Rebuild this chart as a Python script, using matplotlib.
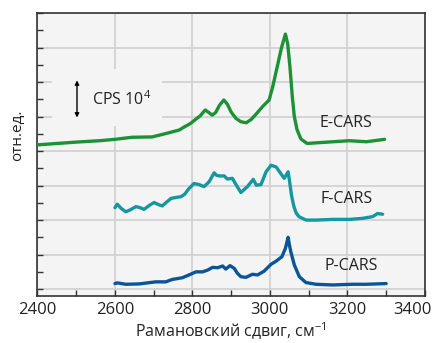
import matplotlib
matplotlib.use('Agg')
import matplotlib.pyplot as plt
from matplotlib.patches import Rectangle
from matplotlib.ticker import MultipleLocator
from matplotlib.transforms import ScaledTranslation

plt.rcParams['font.family'] = ['Open Sans', 'DejaVu Sans']
plt.rcParams['mathtext.fontset'] = 'custom'
plt.rcParams['mathtext.rm'] = 'Open Sans'
plt.rcParams['mathtext.it'] = 'Open Sans'

# E-CARS (green)
e_x = [2400, 2450, 2500, 2560, 2600, 2644, 2696, 2732, 2766, 2779, 2795, 2806,
       2820, 2833, 2842, 2851, 2860, 2870, 2881, 2890, 2900, 2912, 2925, 2939,
       2952, 2965, 2982, 2998, 3008, 3018, 3030, 3040, 3046, 3052, 3058, 3063,
       3070, 3080, 3096, 3135, 3205, 3249, 3296]
e_y = [4.18, 4.22, 4.26, 4.30, 4.34, 4.40, 4.41, 4.51, 4.61, 4.70, 4.80, 4.90,
       5.02, 5.19, 5.12, 5.04, 5.12, 5.33, 5.48, 5.36, 5.13, 4.95, 4.85, 4.82,
       4.92, 5.08, 5.30, 5.48, 5.90, 6.40, 7.00, 7.39, 7.10, 6.40, 5.55, 5.00,
       4.62, 4.35, 4.22, 4.25, 4.30, 4.27, 4.34]

# F-CARS (teal)
f_x = [2600, 2606, 2616, 2628, 2640, 2654, 2665, 2675, 2688, 2701, 2712, 2722,
       2733, 2745, 2760, 2771, 2780, 2790, 2804, 2817, 2830, 2843, 2856, 2862,
       2869, 2882, 2890, 2903, 2914, 2925, 2942, 2957, 2965, 2977, 2990, 3003,
       3016, 3028, 3037, 3047, 3051, 3056, 3062, 3068, 3075, 3093, 3119, 3162,
       3205, 3239, 3265, 3278, 3291]
f_y = [2.36, 2.46, 2.34, 2.24, 2.30, 2.39, 2.36, 2.31, 2.42, 2.51, 2.45, 2.41,
       2.52, 2.63, 2.66, 2.68, 2.75, 2.90, 3.06, 3.03, 2.97, 3.11, 3.37, 3.30,
       3.28, 3.28, 3.19, 3.21, 3.00, 2.80, 2.97, 3.18, 3.01, 3.03, 3.40, 3.59,
       3.54, 3.35, 3.21, 3.40, 3.10, 2.70, 2.39, 2.20, 2.10, 2.00, 2.00, 2.02,
       2.02, 2.05, 2.10, 2.19, 2.17]

# P-CARS (blue)
p_x = [2600, 2606, 2628, 2662, 2705, 2731, 2748, 2774, 2791, 2809, 2826, 2839,
       2852, 2865, 2878, 2886, 2897, 2908, 2916, 2925, 2938, 2955, 2968, 2985,
       3003, 3016, 3031, 3040, 3047, 3050, 3054, 3063, 3076, 3093, 3119, 3162,
       3213, 3248, 3274, 3300]
p_y = [0.16, 0.18, 0.14, 0.15, 0.21, 0.21, 0.28, 0.33, 0.41, 0.50, 0.50, 0.55,
       0.63, 0.62, 0.67, 0.58, 0.68, 0.60, 0.46, 0.36, 0.34, 0.43, 0.41, 0.52,
       0.72, 0.81, 0.94, 1.18, 1.50, 1.30, 1.08, 0.70, 0.36, 0.19, 0.14, 0.12,
       0.14, 0.14, 0.15, 0.16]

x_ticks = [2400, 2600, 2800, 3000, 3200, 3400]

series = [
    ('E-CARS', e_x, e_y, '#1c9136', 3195, 4.82),
    ('F-CARS', f_x, f_y, '#16979f', 3198, 2.61),
    ('P-CARS', p_x, p_y, '#0a5597', 3210, 0.68),
]

fig = plt.figure(figsize=(4.38, 3.43), dpi=100)
ax = fig.add_axes([0.0856, 0.137, 0.8844, 0.825])
ax.set_facecolor('#f4f4f4')

for name, xs, ys, color, tx, ty in series:
    ax.plot(xs, ys, color=color, linewidth=2.4, solid_capstyle='round',
            solid_joinstyle='round', zorder=3)
    ax.text(tx, ty, name, fontsize=11.5, color='#222222', ha='center', va='center', zorder=4)

ax.set_xlim(2400, 3400)
ax.set_ylim(-0.2, 8.0)
ax.set_xticks(x_ticks)
ax.xaxis.set_minor_locator(MultipleLocator(100))
ax.yaxis.set_major_locator(MultipleLocator(1))
ax.yaxis.set_minor_locator(MultipleLocator(0.5))
ax.set_yticklabels([])
ax.tick_params(which='both', direction='in', length=4, width=1, color='#333333')
ax.tick_params(axis='x', labelsize=12, pad=4, labelcolor='#222222')
ax.tick_params(axis='y', left=True, right=False)
ax.grid(True, which='major', color='#d2d2d2', linewidth=1.3, zorder=0)
ax.set_axisbelow(True)
for sp in ax.spines.values():
    sp.set_color('#333333')
    sp.set_linewidth(1.2)

# scale bar box
ax.add_patch(Rectangle((2437, 4.72), 285, 1.66, facecolor='#f4f4f4',
                       edgecolor='none', zorder=1))
ax.annotate('', xy=(2502, 6.05), xytext=(2502, 4.97),
            arrowprops=dict(arrowstyle='<|-|>', color='black', lw=1,
                            mutation_scale=6, shrinkA=0, shrinkB=0), zorder=4)
ax.text(2540, 5.5, 'CPS 10$^4$', fontsize=11.5, color='#222222', va='center', ha='left', zorder=4)

ax.set_xlabel('Рамановский сдвиг, см$^{-1}$', fontsize=11.5, color='#222222', labelpad=2)
ax.text(-0.05, 0.567, 'отн.ед.', rotation=90, fontsize=11, color='#222222',
        ha='center', va='center', transform=ax.transAxes)

# last tick label pulled inside the figure, like the original
fig.canvas.draw()
last = ax.get_xticklabels()[-1]
last.set_transform(last.get_transform() + ScaledTranslation(-9 / 72, 0, fig.dpi_scale_trans))

fig.savefig('out.png', dpi=100)
